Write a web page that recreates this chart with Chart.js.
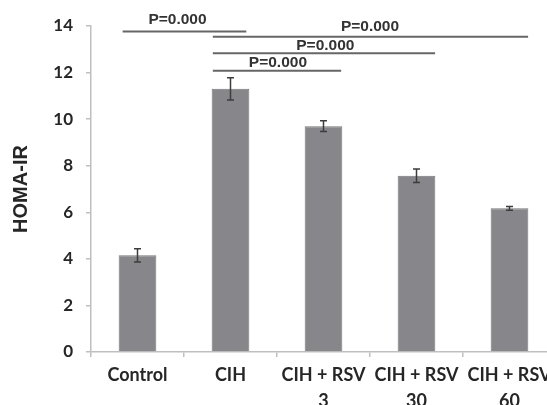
<!DOCTYPE html>
<html>
<head>
<meta charset="utf-8">
<script src="https://cdn.jsdelivr.net/npm/chart.js@4.4.1/dist/chart.umd.min.js"></script>
<style>
html,body{margin:0;padding:0;background:#fff;overflow:hidden;}
#wrap{width:570px;height:405px;}
</style>
</head>
<body>
<div id="wrap"><canvas id="c" width="570" height="405"></canvas></div>
<script>
// ---- data ----
const categories = ["Control", "CIH", ["CIH + RSV", "3"], ["CIH + RSV", "30"], ["CIH + RSV", "60"]];
const homaValues = [4.15, 11.3, 9.7, 7.57, 6.17];
const homaErrors = [0.28, 0.48, 0.23, 0.29, 0.08];
const yTicks = [0, 2, 4, 6, 8, 10, 12, 14];
// significance brackets (category index units, value units)
const bracketFrom = [-0.16, 0.81, 0.81, 0.81];
const bracketTo   = [1.17, 4.2, 3.2, 2.19];
const bracketY    = [13.76, 13.54, 12.83, 12.08];
const bracketLabelY = [14.25, 13.97, 13.15, 12.41];
const bracketLabelX = [0.43, 2.5, 2.02, 1.51];
const bracketLabels = ["P=0.000", "P=0.000", "P=0.000", "P=0.000"];

const overlay = {
  id: 'overlay',
  afterDatasetsDraw(chart) {
    const ctx = chart.ctx;
    const x = chart.scales.x, y = chart.scales.y;
    ctx.save();
    // error bars
    ctx.strokeStyle = '#3c3c3c';
    ctx.lineWidth = 1.5;
    homaValues.forEach((v, i) => {
      const cx = x.getPixelForValue(i);
      const yt = y.getPixelForValue(v + homaErrors[i]);
      const yb = y.getPixelForValue(v - homaErrors[i]);
      ctx.beginPath();
      ctx.moveTo(cx, yt); ctx.lineTo(cx, yb);
      ctx.moveTo(cx - 3.5, yt); ctx.lineTo(cx + 3.5, yt);
      ctx.moveTo(cx - 3.5, yb); ctx.lineTo(cx + 3.5, yb);
      ctx.stroke();
    });
    // brackets
    const step = x.getPixelForValue(1) - x.getPixelForValue(0);
    const x0 = x.getPixelForValue(0);
    ctx.strokeStyle = '#666';
    ctx.lineWidth = 2;
    ctx.fillStyle = '#333';
    ctx.font = 'bold 15.5px "Liberation Sans", Arial, sans-serif';
    ctx.textAlign = 'center';
    ctx.textBaseline = 'middle';
    bracketFrom.forEach((f, i) => {
      const xa = x0 + f * step, xb = x0 + bracketTo[i] * step;
      const yy = y.getPixelForValue(bracketY[i]);
      ctx.beginPath();
      ctx.moveTo(xa, yy); ctx.lineTo(xb, yy);
      ctx.stroke();
      ctx.fillText(bracketLabels[i], x0 + bracketLabelX[i] * step, y.getPixelForValue(bracketLabelY[i]));
    });
    ctx.restore();
  }
};

new Chart(document.getElementById('c'), {
  type: 'bar',
  data: {
    labels: categories,
    datasets: [{
      data: homaValues,
      backgroundColor: '#87878b',
      borderColor: '#77777b',
      borderWidth: 1,
      categoryPercentage: 1,
      barPercentage: 0.405
    }]
  },
  options: {
    responsive: false,
    animation: false,
    events: [],
    layout: { padding: { top: 26, right: 14, left: 0, bottom: 0 } },
    plugins: { legend: { display: false }, tooltip: { enabled: false } },
    scales: {
      x: {
        grid: { display: true, drawOnChartArea: false, drawTicks: true, tickLength: 5, color: '#bfbfbf', lineWidth: 1.5, offset: true },
        border: { display: true, color: '#bfbfbf', width: 1.5 },
        ticks: {
          color: '#262626',
          padding: 5,
          maxRotation: 0,
          autoSkip: false,
          font: { family: 'Lato', weight: 'bold', size: 18, lineHeight: 1.45 }
        },
        afterFit(s) { s.height = 53; }
      },
      y: {
        min: 0, max: 14,
        afterBuildTicks(s) { s.ticks = yTicks.map(v => ({ value: v })); },
        grid: { display: true, drawOnChartArea: false, drawTicks: true, tickLength: 5, color: '#bfbfbf', lineWidth: 1.5 },
        border: { display: true, color: '#bfbfbf', width: 1.5 },
        ticks: {
          color: '#262626',
          padding: 13,
          font: { family: 'Lato', weight: 'bold', size: 17 }
        },
        title: {
          display: true,
          text: 'HOMA-IR',
          color: '#262626',
          font: { family: '"Liberation Sans", Arial, sans-serif', weight: 'bold', size: 20 },
          padding: { top: 9, bottom: 0 }
        },
        afterFit(s) { s.width = 91; }
      }
    }
  },
  plugins: [overlay]
});
</script>
</body>
</html>
